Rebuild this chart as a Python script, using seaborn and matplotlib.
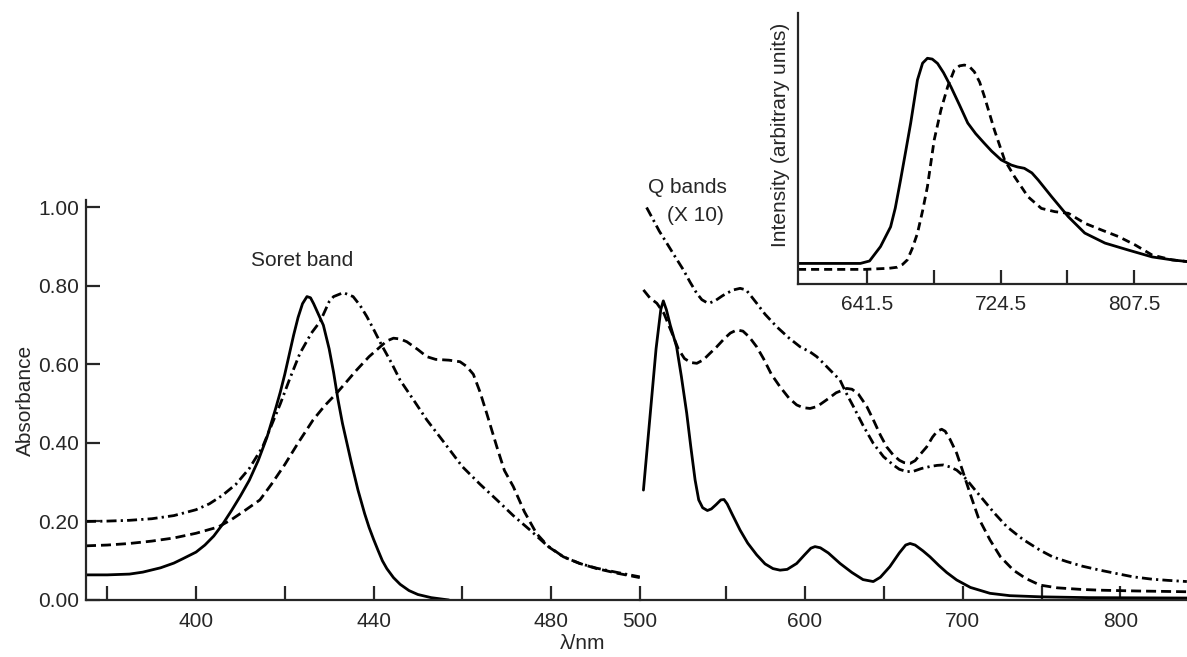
import matplotlib
matplotlib.use("Agg")
import matplotlib.pyplot as plt
import seaborn as sns

# ------------------ data ------------------

# Soret region (left panel), wavelength in nm, absorbance
soret_solid_nm = [375.2, 380, 385, 388, 392, 395, 397, 400, 402, 404, 406, 408, 410, 412, 414, 416,
                  418, 419, 420, 421, 422, 423, 424, 425, 425.8, 426.5, 427.5, 428.7, 430, 431, 432,
                  433, 434, 435, 436.5, 438, 439, 440, 441, 442, 443, 444.5, 446, 448, 450, 453, 457]
soret_solid_abs = [0.064, 0.064, 0.066, 0.071, 0.082, 0.094, 0.105, 0.122, 0.14, 0.163, 0.193,
                   0.228, 0.265, 0.305, 0.355, 0.415, 0.49, 0.53, 0.575, 0.625, 0.675, 0.72, 0.755,
                   0.773, 0.77, 0.755, 0.73, 0.70, 0.64, 0.58, 0.51, 0.45, 0.40, 0.35, 0.28, 0.22,
                   0.185, 0.155, 0.127, 0.10, 0.08, 0.057, 0.04, 0.024, 0.014, 0.006, 0.0]

soret_dash_nm = [375.2, 380, 385, 390, 395, 400, 405, 408, 411, 414.4, 417, 420, 423, 426.4, 429,
                 431.7, 434, 436.2, 439, 441.5, 443, 444.5, 446, 447.5, 450, 452, 454, 457, 459.5,
                 461, 462.5, 464, 465.5, 467.8, 469.5, 471.5, 474, 476.7, 479.5, 482.8, 486.5,
                 490.3, 495, 500]
soret_dash_abs = [0.138, 0.140, 0.144, 0.150, 0.158, 0.170, 0.186, 0.205, 0.228, 0.255, 0.295, 0.345,
                  0.40, 0.459, 0.495, 0.527, 0.557, 0.586, 0.62, 0.645, 0.66, 0.667, 0.665, 0.658,
                  0.638, 0.62, 0.613, 0.611, 0.607, 0.595, 0.575, 0.53, 0.476, 0.39, 0.33, 0.289,
                  0.225, 0.17, 0.135, 0.11, 0.093, 0.08, 0.068, 0.057]

soret_dashdot_nm = [375.2, 380, 385, 390, 395, 400, 403, 406, 409, 412, 415, 417, 419, 421, 423.4,
                    426, 428, 430, 431, 433.2, 435.4, 437, 438.5, 440, 441.8, 444, 446, 449, 452,
                    456, 460, 464, 467.8, 471.5, 475.3, 479, 482.8, 486.5, 490.3, 495, 500]
soret_dashdot_abs = [0.200, 0.201, 0.203, 0.207, 0.215, 0.230, 0.245, 0.267, 0.295, 0.335, 0.39,
                     0.445, 0.50, 0.56, 0.628, 0.68, 0.71, 0.76, 0.773, 0.783, 0.773, 0.75, 0.722,
                     0.69, 0.65, 0.605, 0.56, 0.51, 0.459, 0.40, 0.34, 0.295, 0.255, 0.215, 0.178,
                     0.14, 0.11, 0.093, 0.081, 0.07, 0.059]

# Q band region (right panel, x 10)
q_solid_nm = [498, 502, 506, 509, 510.6, 512.5, 515, 519, 522, 525.4, 528, 530.7, 533, 535.5, 538.5,
              541, 544, 547, 549, 551, 554, 559.2, 564, 569.7, 575, 580, 584.5, 589, 595, 600, 604,
              606.6, 610, 615, 622.5, 630, 637, 643.5, 648, 654, 660, 664, 666.8, 670, 675, 679.4,
              685, 690, 696.3, 705, 717.4, 730, 750, 780, 842]
q_solid_abs = [0.28, 0.46, 0.64, 0.74, 0.762, 0.74, 0.70, 0.645, 0.57, 0.476, 0.39, 0.306, 0.255,
               0.235, 0.228, 0.232, 0.243, 0.255, 0.256, 0.245, 0.22, 0.178, 0.145, 0.115, 0.092,
               0.08, 0.076, 0.078, 0.093, 0.115, 0.132, 0.136, 0.133, 0.12, 0.093, 0.07, 0.052,
               0.047, 0.058, 0.085, 0.12, 0.14, 0.144, 0.14, 0.125, 0.11, 0.088, 0.07, 0.051,
               0.032, 0.017, 0.011, 0.008, 0.006, 0.005]

q_dash_nm = [498, 502, 506.5, 511, 514, 517, 520, 524, 528, 531.8, 536, 540, 544.4, 549, 553, 557.1,
             561, 565, 569.7, 574, 579, 584.5, 590, 595, 599, 603.5, 608, 614, 620, 626.7, 630, 634,
             639.4, 644, 648, 652, 656, 660, 663, 666.8, 670, 673, 677.3, 681, 684, 686.8, 689, 692,
             696.3, 700, 704.7, 710, 717.4, 724, 732.2, 740, 749, 760, 775, 787, 810, 842]
q_dash_abs = [0.79, 0.77, 0.756, 0.73, 0.70, 0.671, 0.64, 0.615, 0.605, 0.603, 0.612, 0.628, 0.645,
              0.665, 0.68, 0.688, 0.685, 0.67, 0.645, 0.615, 0.575, 0.543, 0.515, 0.497, 0.49,
              0.488, 0.493, 0.51, 0.528, 0.539, 0.537, 0.525, 0.493, 0.455, 0.42, 0.39, 0.37,
              0.356, 0.35, 0.348, 0.355, 0.37, 0.39, 0.415, 0.43, 0.435, 0.43, 0.41, 0.374, 0.33,
              0.272, 0.21, 0.153, 0.11, 0.076, 0.055, 0.038, 0.031, 0.027, 0.025, 0.023, 0.021]

q_dashdot_nm = [500, 504.3, 508, 512.8, 518, 523.3, 527.5, 531.8, 535, 538, 540.2, 544, 548, 551,
                555, 559.2, 563, 566, 569.7, 575, 582.4, 590, 597.2, 603.5, 607.7, 612, 616.1,
                622.5, 626, 630.9, 637, 643.5, 650, 656.2, 660, 664.7, 669, 674, 679.4, 684, 687.8,
                692, 696.3, 700, 702.7, 708, 713.2, 720, 728, 738, 749, 757, 765.9, 776, 787, 798,
                808, 820, 830, 842]
q_dashdot_abs = [1.0, 0.968, 0.94, 0.909, 0.875, 0.841, 0.81, 0.781, 0.765, 0.758, 0.757, 0.764,
                 0.775, 0.782, 0.79, 0.794, 0.79, 0.775, 0.756, 0.728, 0.696, 0.668, 0.645, 0.632,
                 0.62, 0.603, 0.586, 0.56, 0.53, 0.493, 0.445, 0.399, 0.365, 0.344, 0.333, 0.327,
                 0.328, 0.335, 0.34, 0.343, 0.344, 0.339, 0.331, 0.318, 0.306, 0.28, 0.255, 0.222,
                 0.187, 0.155, 0.127, 0.11, 0.098, 0.086, 0.076, 0.067, 0.059, 0.053, 0.05, 0.047]

# Emission inset, arbitrary intensity
em_solid_nm = [598.5, 620, 637.3, 643, 649.8, 656.1, 659, 662.3, 665.5, 668.6, 672.8, 676, 679, 682,
               685.3, 689, 693.6, 699, 704.1, 709, 714.3, 719, 724.9, 731.2, 735, 739.3, 744, 747.9,
               756.3, 766.7, 776.9, 789.5, 804.2, 818.8, 831.3, 841.9]
em_solid_int = [0.076, 0.076, 0.076, 0.085, 0.138, 0.211, 0.28, 0.384, 0.49, 0.594, 0.753, 0.815,
                0.833, 0.83, 0.814, 0.78, 0.728, 0.66, 0.594, 0.555, 0.52, 0.49, 0.458, 0.439,
                0.432, 0.427, 0.41, 0.384, 0.322, 0.248, 0.188, 0.151, 0.125, 0.1, 0.089, 0.082]

em_dash_nm = [598.5, 640, 655, 660.3, 663.5, 666.5, 669.5, 672.8, 676, 679, 683.2, 687.4, 691.6,
              695.7, 699, 702, 705, 708.2, 711.5, 714.5, 720.7, 727, 733.2, 741.6, 749.9, 758.3,
              766.7, 777, 787.5, 797.9, 808.3, 818.8, 831.3, 841.9]
em_dash_int = [0.054, 0.054, 0.058, 0.062, 0.072, 0.089, 0.13, 0.187, 0.27, 0.359, 0.531, 0.642,
               0.728, 0.79, 0.805, 0.808, 0.803, 0.783, 0.745, 0.691, 0.568, 0.458, 0.396, 0.322,
               0.279, 0.267, 0.261, 0.224, 0.199, 0.175, 0.144, 0.107, 0.089, 0.082]

left_ticks = [380, 400, 420, 440, 460, 480, 500]
left_labels = ["", "400", "", "440", "", "480", "500"]
right_ticks = [550, 600, 650, 700, 750, 800]
right_labels = ["", "600", "", "700", "", "800"]
y_ticks = [0.0, 0.2, 0.4, 0.6, 0.8, 1.0]
inset_ticks = [641.5, 683, 724.5, 766, 807.5]
inset_labels = ["641.5", "", "724.5", "", "807.5"]

# ------------------ styling ------------------
sns.set_style("ticks")
plt.rcParams["font.family"] = ["Liberation Sans", "DejaVu Sans"]
plt.rcParams["font.size"] = 15

DASH = (0, (3.6, 1.8))
DASHDOT = (0, (3.6, 1.5, 0.8, 1.5))
LW = 2

fig = plt.figure(figsize=(11.87, 6.57), dpi=100)
ax1 = fig.add_axes([0.07245, 0.08676, 0.4665, 0.6088])
ax2 = fig.add_axes([0.539, 0.08676, 0.461, 0.6088])
axi = fig.add_axes([0.6723, 0.5677, 0.3277, 0.4125])

# ------------------ Soret band ------------------
sns.lineplot(x=soret_solid_nm, y=soret_solid_abs, ax=ax1, color="black", lw=LW, sort=False, estimator=None)
sns.lineplot(x=soret_dash_nm, y=soret_dash_abs, ax=ax1, color="black", lw=LW, linestyle=DASH, sort=False, estimator=None)
sns.lineplot(x=soret_dashdot_nm, y=soret_dashdot_abs, ax=ax1, color="black", lw=LW, linestyle=DASHDOT, sort=False, estimator=None)

ax1.set_xlim(375.2, 500)
ax1.set_ylim(0, 1.019)
ax1.set_xticks(left_ticks)
ax1.set_xticklabels(left_labels)
ax1.set_yticks(y_ticks)
ax1.set_yticklabels([f"{v:.2f}" for v in y_ticks])
ax1.set_ylabel("Absorbance", labelpad=2)
ax1.text(412.4, 0.864, "Soret band", ha="left", va="center")

# ------------------ Q bands ------------------
sns.lineplot(x=q_solid_nm, y=q_solid_abs, ax=ax2, color="black", lw=LW, sort=False, estimator=None)
sns.lineplot(x=q_dash_nm, y=q_dash_abs, ax=ax2, color="black", lw=LW, linestyle=DASH, sort=False, estimator=None)
sns.lineplot(x=q_dashdot_nm, y=q_dashdot_abs, ax=ax2, color="black", lw=LW, linestyle=DASHDOT, sort=False, estimator=None)

ax2.set_xlim(495.7, 842.1)
ax2.set_ylim(0, 1.019)
ax2.set_xticks(right_ticks)
ax2.set_xticklabels(right_labels)
ax2.set_yticks([])
ax2.text(501, 1.05, "Q bands", ha="left", va="center", clip_on=False)
ax2.text(513, 0.98, "(X 10)", ha="left", va="center", clip_on=False)

for ax in (ax1, ax2):
    ax.patch.set_alpha(0)
    ax.spines["top"].set_visible(False)
    ax.spines["right"].set_visible(False)
    ax.spines["bottom"].set_linewidth(1.6)
    ax.spines["left"].set_linewidth(1.6)
    ax.tick_params(direction="in", length=10, width=1.6, pad=9, labelsize=15)
    ax.tick_params(axis="y", pad=5)
ax2.spines["left"].set_visible(False)

fig.text(0.491, 0.006, "\u03bb/nm", ha="center", va="bottom", fontsize=15)

# ------------------ emission inset ------------------
sns.lineplot(x=em_solid_nm, y=em_solid_int, ax=axi, color="black", lw=LW, sort=False, estimator=None)
sns.lineplot(x=em_dash_nm, y=em_dash_int, ax=axi, color="black", lw=LW, linestyle=(0, (2.9, 1.8)), sort=False, estimator=None)
axi.set_xlim(598.5, 840.5)
axi.set_ylim(0, 1)
axi.set_xticks(inset_ticks)
axi.set_xticklabels(inset_labels)
axi.set_yticks([])
axi.set_ylabel("Intensity (arbitrary units)")
axi.yaxis.set_label_coords(-0.02, 0.55)
axi.spines["top"].set_visible(False)
axi.spines["right"].set_visible(False)
axi.spines["bottom"].set_linewidth(1.6)
axi.spines["left"].set_linewidth(1.6)
axi.tick_params(direction="in", length=10, width=1.6, pad=8, labelsize=15)
axi.set_facecolor("white")

fig.savefig("out.png", dpi=100)
